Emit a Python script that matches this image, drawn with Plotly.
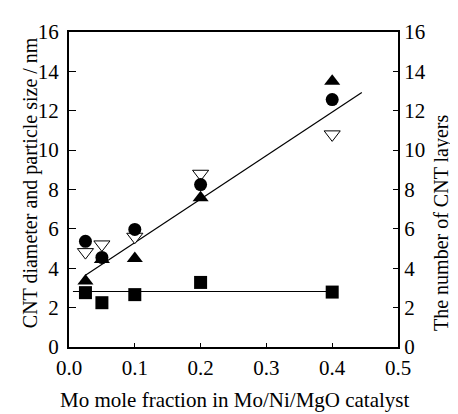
import plotly.graph_objects as go

mo_fraction = [0.025, 0.05, 0.1, 0.2, 0.4]
cnt_diameter = [5.37, 4.55, 5.97, 8.25, 12.57]          # filled circles
particle_size = [3.35, 4.45, 4.5, 7.58, 13.5]            # filled triangles
cnt_layers = [4.82, 5.21, 5.6, 8.8, 10.8]                # open down-triangles
other_size = [2.76, 2.25, 2.66, 3.28, 2.79]              # filled squares

trend_x = [0.025, 0.445]
trend_y = [3.65, 12.93]
flat_x = [0.006, 0.4]
flat_y = [2.82, 2.82]

FONT = "Liberation Serif"

fig = go.Figure()
fig.add_trace(go.Scatter(x=trend_x, y=trend_y, mode="lines",
                         line=dict(color="black", width=1.2), showlegend=False))
fig.add_trace(go.Scatter(x=flat_x, y=flat_y, mode="lines",
                         line=dict(color="black", width=1.2), showlegend=False))
fig.add_trace(go.Scatter(x=mo_fraction, y=other_size, mode="markers",
                         marker=dict(symbol="square", size=13, color="black"), showlegend=False))
fig.add_trace(go.Scatter(x=mo_fraction, y=cnt_layers, mode="markers",
                         marker=dict(symbol="triangle-down", size=14, color="white",
                                     line=dict(color="black", width=1)), showlegend=False))
fig.add_trace(go.Scatter(x=mo_fraction, y=particle_size, mode="markers",
                         marker=dict(symbol="triangle-up", size=14, color="black"), showlegend=False))
fig.add_trace(go.Scatter(x=mo_fraction, y=cnt_diameter, mode="markers",
                         marker=dict(symbol="circle", size=13, color="black"), showlegend=False))
fig.add_trace(go.Scatter(x=[0.5], y=[0], yaxis="y2", mode="markers",
                         marker=dict(opacity=0), showlegend=False, hoverinfo="skip"))

tick_font = dict(family=FONT, size=21, color="black")
title_font = dict(family=FONT, size=20, color="black")
xtitle_font = dict(family=FONT, size=21, color="black")

fig.update_layout(
    width=450, height=406,
    margin=dict(l=61, r=60, t=12, b=67),
    plot_bgcolor="white", paper_bgcolor="white",
    font=tick_font,
    xaxis=dict(range=[0, 0.5], tickvals=[0, 0.1, 0.2, 0.3, 0.4, 0.5],
               ticktext=["0.0", "0.1", "0.2", "0.3", "0.4", "0.5"],
               showgrid=False, zeroline=False, showline=True, mirror=True,
               linecolor="black", linewidth=2, ticks="inside", ticklen=4,
               tickcolor="black", tickfont=tick_font, ticklabelstandoff=1),
    yaxis=dict(range=[0, 16], tickvals=list(range(0, 17, 2)),
               showgrid=False, zeroline=False, showline=True,
               linecolor="black", linewidth=2, ticks="inside", ticklen=7,
               tickcolor="black", tickfont=tick_font, ticklabelstandoff=4),
    yaxis2=dict(range=[0, 16], tickvals=list(range(0, 17, 2)), overlaying="y",
                side="right", showgrid=False, zeroline=False, showline=True,
                linecolor="black", linewidth=2, ticks="inside", ticklen=5,
                tickcolor="black", tickfont=tick_font),
    annotations=[
        dict(text="CNT diameter and particle size / nm", xref="paper", yref="paper",
             x=-0.1185, y=0.52, textangle=-90, showarrow=False,
             xanchor="center", yanchor="middle", font=title_font),
        dict(text="The number of CNT layers", xref="paper", yref="paper",
             x=1.134, y=0.394, textangle=-90, showarrow=False,
             xanchor="center", yanchor="middle", font=title_font),
        dict(text="Mo mole fraction in Mo/Ni/MgO catalyst", xref="paper", yref="paper",
             x=0.506, y=-0.168, showarrow=False,
             xanchor="center", yanchor="middle", font=xtitle_font),
    ],
)

fig.write_html("out.html")
